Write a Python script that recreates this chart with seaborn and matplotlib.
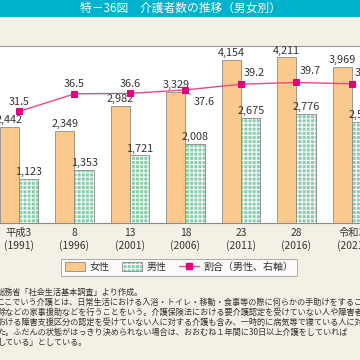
import matplotlib
matplotlib.use("Agg")
import matplotlib.pyplot as plt
import seaborn as sns
import pandas as pd
import numpy as np
from matplotlib.patches import Patch, Rectangle
from matplotlib.lines import Line2D

# data
years = ['平成3\n(1991)', '8\n(1996)', '13\n(2001)', '18\n(2006)',
         '23\n(2011)', '28\n(2016)', '令和3\n(2021)']
female = [2442, 2349, 2982, 3329, 4154, 4211, 3969]
male = [1123, 1353, 1721, 2008, 2675, 2776, 2565]
ratio = [31.5, 36.5, 36.6, 37.6, 39.2, 39.7, 39.3]

notes = [
    '総務省「社会生活基本調査」より作成。',
    'ここでいう介護とは、日常生活における入浴・トイレ・移動・食事等の際に何らかの手助けをするこ',
    '除などの家事援助などを行うことをいう。介護保険法における要介護認定を受けていない人や障害者総',
    'おける障害支援区分の認定を受けていない人に対する介護も含み、一時的に病気等で寝ている人に対',
    'た。ふだんの状態がはっきり決められない場合は、おおむね１年間に30日以上介護をしていれば',
    'している」としている。',
]

TEAL = '#00b2cc'
BEIGE = '#f3f0e5'
ORANGE = '#fbc98b'
GREEN = '#86cda9'
EDGE = '#8a8a8a'
PINK = '#ec4a85'
MAGENTA = '#e4007f'
TXT = '#333333'
NUM = 7.8

sns.set_style('white')
plt.rcParams['font.family'] = ['Noto Sans CJK JP', 'DejaVu Sans']
plt.rcParams['hatch.linewidth'] = 0.8

df = pd.DataFrame({
    'year': years * 2,
    'value': female + male,
    'sex': ['女性'] * len(years) + ['男性'] * len(years),
})

fig = plt.figure(figsize=(3.6, 3.6), dpi=100)
fig.patch.set_facecolor(BEIGE)

# title bar
H = 360.0
fig.patches.append(Rectangle((0, 1 - 17 / H), 1, 17 / H, transform=fig.transFigure,
                             facecolor=TEAL, edgecolor='none', zorder=0))
fig.patches.append(Rectangle((0, 1 - 20 / H), 1, 3 / H, transform=fig.transFigure,
                             facecolor='white', edgecolor='none', zorder=0))
fig.text(0.5, 1 - 8.5 / H, '特－36図　介護者数の推移（男女別）', color='white',
         fontsize=8.5, ha='center', va='center')

# plot area: baseline at y=223px, top at y=46px
ax = fig.add_axes([0, (H - 223) / H, 1, 177 / H])
ax.set_facecolor('white')

sns.barplot(data=df, x='year', y='value', hue='sex', palette=[ORANGE, GREEN],
            width=0.7, gap=0, edgecolor=EDGE, linewidth=0.6, legend=False,
            saturation=1, ax=ax)

n = len(years)
for p in ax.patches[n:2 * n]:
    p.set_hatch('++++')
    p._hatch_color = (1, 1, 1, 1)

ax.set_yticks([])
ax.set_xlabel('')
ax.set_ylabel('')
ax.set_xticks(range(n))
ax.set_xticklabels(years, fontsize=7.4, color=TXT, linespacing=1.2)
ax.tick_params(axis='x', which='major', length=0, pad=3.5)
ax.set_xticks(np.arange(n) + 0.5, minor=True)
ax.tick_params(axis='x', which='minor', direction='in', length=3,
               color=EDGE, width=0.6)
for s in ['left', 'right']:
    ax.spines[s].set_visible(False)
ax.spines['top'].set_color('#9a9a9a')
ax.spines['top'].set_linewidth(0.8)
ax.spines['bottom'].set_color(EDGE)
ax.spines['bottom'].set_linewidth(0.8)

# value labels on bars
for i in range(n):
    ax.annotate(f'{female[i]:,}', (i - 0.175, female[i]), xytext=(0, 1.2),
                textcoords='offset points', ha='center', va='bottom',
                fontsize=NUM, color=TXT, annotation_clip=False)
    ax.annotate(f'{male[i]:,}', (i + 0.175, male[i]), xytext=(0, 1.2),
                textcoords='offset points', ha='center', va='bottom',
                fontsize=NUM, color=TXT, annotation_clip=False)

# ratio line on right axis
ax2 = ax.twinx()
sns.lineplot(x=np.arange(n), y=ratio, ax=ax2, color=PINK, linewidth=1.0,
             marker='s', markersize=4, markerfacecolor=MAGENTA,
             markeredgecolor=MAGENTA)
ax2.set_yticks([])
ax2.set_ylabel('')
for s in ax2.spines.values():
    s.set_visible(False)

lead = dict(arrowstyle='-', color='#555555', lw=0.5, shrinkA=0, shrinkB=0)
for i, r in enumerate(ratio):
    if i < 3:
        ax2.annotate(f'{r}', (i, r), xytext=(0, 3.5), textcoords='offset points',
                     ha='center', va='bottom', fontsize=NUM, color=TXT)
    elif i == 3:
        ax2.annotate(f'{r}', (i, r), xytext=(6, -8.5), textcoords='offset points',
                     ha='left', va='center', fontsize=NUM, color=TXT,
                     arrowprops=dict(lead, relpos=(0, 0.9)))
    else:
        ax2.annotate(f'{r}', (i, r), xytext=(2, 8), textcoords='offset points',
                     ha='left', va='center', fontsize=NUM, color=TXT,
                     arrowprops=dict(lead, relpos=(0.1, 0)))

# fix the limits last so nothing rescales them
ax.set_ylim(0, 4500)
ax2.set_ylim(0, 50)
ax.set_xlim(-19 / 55.5, (360 - 19) / 55.5)
ax2.set_xlim(-19 / 55.5, (360 - 19) / 55.5)
ax.set_autoscale_on(False)
ax2.set_autoscale_on(False)

# legend
h_f = Patch(facecolor=ORANGE, edgecolor=EDGE, linewidth=0.6)
h_m = Patch(facecolor=GREEN, edgecolor=EDGE, linewidth=0.6, hatch='++++')
h_m._hatch_color = (1, 1, 1, 1)
h_r = Line2D([0], [0], color=PINK, lw=1.0, marker='s', markersize=4,
             markerfacecolor=MAGENTA, markeredgecolor=MAGENTA)
leg = fig.legend([h_f, h_m, h_r], ['女性', '男性', '割合（男性、右軸）'],
                 loc='center', bbox_to_anchor=(179 / H, 1 - 267 / H), ncol=3,
                 fontsize=7.2, frameon=True, fancybox=False, handlelength=2.0,
                 handleheight=0.9, columnspacing=1.2, handletextpad=0.5,
                 borderpad=0.35)
leg.get_frame().set_edgecolor('#888888')
leg.get_frame().set_linewidth(0.6)
for t in leg.get_texts():
    t.set_color(TXT)

# notes
for k, line in enumerate(notes):
    fig.text(-3 / H, 1 - (292.5 + 10 * k) / H, line, fontsize=5.9, color=TXT,
             ha='left', va='center')

fig.savefig('out.png', dpi=100, facecolor=fig.get_facecolor())
